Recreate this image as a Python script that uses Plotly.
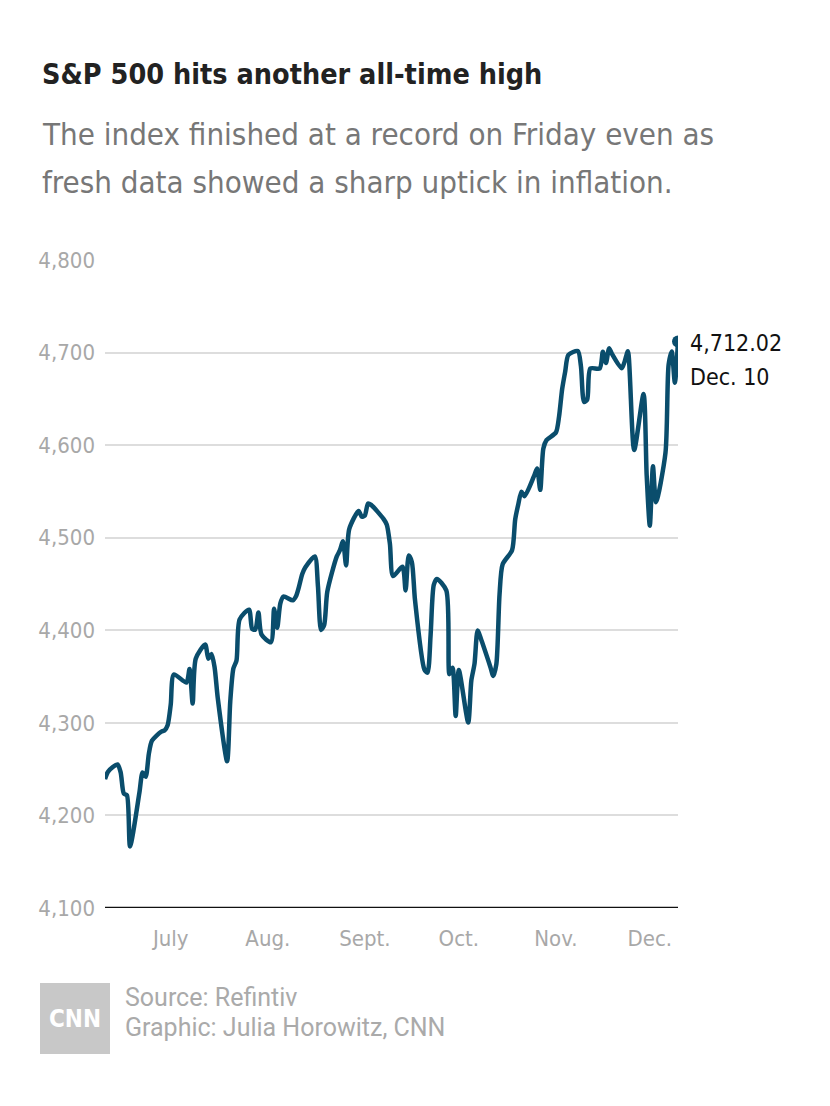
import plotly.graph_objects as go

dates = [
    "2021-06-10", "2021-06-11", "2021-06-14", "2021-06-15", "2021-06-16", "2021-06-17", "2021-06-18",
    "2021-06-21", "2021-06-22", "2021-06-23", "2021-06-24", "2021-06-25", "2021-06-28", "2021-06-29", "2021-06-30",
    "2021-07-01", "2021-07-02", "2021-07-06", "2021-07-07", "2021-07-08", "2021-07-09",
    "2021-07-12", "2021-07-13", "2021-07-14", "2021-07-15", "2021-07-16",
    "2021-07-19", "2021-07-20", "2021-07-21", "2021-07-22", "2021-07-23",
    "2021-07-26", "2021-07-27", "2021-07-28", "2021-07-29", "2021-07-30",
    "2021-08-02", "2021-08-03", "2021-08-04", "2021-08-05", "2021-08-06",
    "2021-08-09", "2021-08-10", "2021-08-11", "2021-08-12", "2021-08-13",
    "2021-08-16", "2021-08-17", "2021-08-18", "2021-08-19", "2021-08-20",
    "2021-08-23", "2021-08-24", "2021-08-25", "2021-08-26", "2021-08-27",
    "2021-08-30", "2021-08-31", "2021-09-01", "2021-09-02", "2021-09-03",
    "2021-09-07", "2021-09-08", "2021-09-09", "2021-09-10",
    "2021-09-13", "2021-09-14", "2021-09-15", "2021-09-16", "2021-09-17",
    "2021-09-20", "2021-09-21", "2021-09-22", "2021-09-23", "2021-09-24",
    "2021-09-27", "2021-09-28", "2021-09-29", "2021-09-30", "2021-10-01",
    "2021-10-04", "2021-10-05", "2021-10-06", "2021-10-07", "2021-10-08",
    "2021-10-11", "2021-10-12", "2021-10-13", "2021-10-14", "2021-10-15",
    "2021-10-18", "2021-10-19", "2021-10-20", "2021-10-21", "2021-10-22",
    "2021-10-25", "2021-10-26", "2021-10-27", "2021-10-28", "2021-10-29",
    "2021-11-01", "2021-11-02", "2021-11-03", "2021-11-04", "2021-11-05",
    "2021-11-08", "2021-11-09", "2021-11-10", "2021-11-11", "2021-11-12",
    "2021-11-15", "2021-11-16", "2021-11-17", "2021-11-18", "2021-11-19",
    "2021-11-22", "2021-11-23", "2021-11-24", "2021-11-26",
    "2021-11-29", "2021-11-30", "2021-12-01", "2021-12-02", "2021-12-03",
    "2021-12-06", "2021-12-07", "2021-12-08", "2021-12-09", "2021-12-10",
]
closes = [
    4239.18, 4247.44, 4255.15, 4246.59, 4223.70, 4221.86, 4166.45,
    4224.79, 4246.44, 4241.84, 4266.49, 4280.70, 4290.61, 4291.80, 4297.50,
    4319.94, 4352.34, 4343.54, 4358.13, 4320.82, 4369.55,
    4384.63, 4369.21, 4374.30, 4360.03, 4327.16,
    4258.49, 4323.06, 4358.69, 4367.48, 4411.79,
    4422.30, 4401.46, 4400.64, 4419.15, 4395.26,
    4387.16, 4423.15, 4402.66, 4429.10, 4436.52,
    4432.35, 4436.75, 4447.70, 4460.83, 4468.00,
    4479.71, 4448.08, 4400.27, 4405.80, 4441.67,
    4479.53, 4486.23, 4496.19, 4470.00, 4509.37,
    4528.79, 4522.68, 4524.09, 4536.95, 4535.43,
    4520.03, 4514.07, 4493.28, 4458.58,
    4468.73, 4443.05, 4480.70, 4473.75, 4432.99,
    4357.73, 4354.19, 4395.64, 4448.98, 4455.48,
    4443.11, 4352.63, 4359.46, 4307.54, 4357.04,
    4300.46, 4345.72, 4363.55, 4399.76, 4391.34,
    4361.19, 4350.65, 4363.80, 4438.26, 4471.37,
    4486.46, 4519.63, 4536.19, 4549.78, 4544.90,
    4566.48, 4574.79, 4551.68, 4596.42, 4605.38,
    4613.67, 4630.65, 4660.57, 4680.06, 4697.53,
    4701.70, 4685.25, 4646.71, 4649.27, 4682.85,
    4682.80, 4700.90, 4688.67, 4704.54, 4697.96,
    4682.94, 4690.70, 4701.46, 4594.62,
    4655.27, 4567.00, 4513.04, 4577.10, 4538.43,
    4591.67, 4686.75, 4701.21, 4667.45, 4712.02,
]

month_ticks = ["2021-07-01", "2021-08-01", "2021-09-01", "2021-10-01", "2021-11-01", "2021-12-01"]
month_labels = ["July", "Aug.", "Sept.", "Oct.", "Nov.", "Dec."]
y_ticks = [4100, 4200, 4300, 4400, 4500, 4600, 4700, 4800]

last_label = "4,712.02"
last_date_label = "Dec. 10"

LINE = "#0a4d6c"
NARROW = "DejaVu Sans Condensed, Roboto, sans-serif"

# page offset (body margin) of 8px; positions below are target page pixels
OFF = 8
L, R, T, B = 105, 678, 260, 908
W, H = R - L, B - T


def px(x):
    return (x - L) / W


def py(y):
    return (B - y) / H


fig = go.Figure()
fig.add_trace(go.Scatter(
    x=dates, y=closes, mode="lines",
    line=dict(color=LINE, width=4.5, shape="spline", smoothing=0.7),
    hoverinfo="skip", showlegend=False,
))
fig.add_trace(go.Scatter(
    x=[dates[-1]], y=[closes[-1]], mode="markers",
    marker=dict(color=LINE, size=12),
    hoverinfo="skip", showlegend=False,
))

annotations = [
    dict(text="<b>S&P 500 hits another all-time high</b>", x=px(40), y=py(74),
         font=dict(family=NARROW, size=28.5, color="#222222")),
    dict(text="The index finished at a record on Friday even as", x=px(40), y=py(134),
         font=dict(family=NARROW, size=31, color="#777777")),
    dict(text="fresh data showed a sharp uptick in inflation.", x=px(40), y=py(182),
         font=dict(family=NARROW, size=31, color="#777777")),
    dict(text="Source: Refintiv", x=px(123), y=py(997),
         font=dict(family="Roboto", size=25, color="#aaaaaa")),
    dict(text="Graphic: Julia Horowitz, CNN", x=px(123), y=py(1027),
         font=dict(family="Roboto", size=25, color="#aaaaaa")),
]
for a in annotations:
    a.update(xref="paper", yref="paper", xanchor="left", yanchor="middle", showarrow=False)

annotations.append(dict(text="<b>CNN</b>", x=px(75), y=py(1019), xref="paper", yref="paper",
                        xanchor="center", yanchor="middle", showarrow=False,
                        font=dict(family=NARROW, size=24, color="#ffffff")))
annotations.append(dict(text=last_label, x=dates[-1], y=closes[-1], xref="x", yref="y",
                        xanchor="left", yanchor="middle", xshift=10, yshift=-2, showarrow=False,
                        font=dict(family=NARROW, size=23, color="#111111")))
annotations.append(dict(text=last_date_label, x=dates[-1], y=closes[-1], xref="x", yref="y",
                        xanchor="left", yanchor="middle", xshift=10, yshift=-36, showarrow=False,
                        font=dict(family=NARROW, size=23, color="#111111")))

fig.update_layout(
    width=830, height=1106,
    margin=dict(l=L - OFF, r=830 - R + OFF, t=T - OFF, b=1106 - B + OFF),
    paper_bgcolor="white", plot_bgcolor="white",
    annotations=annotations,
    shapes=[dict(type="rect", xref="paper", yref="paper",
                 x0=px(40), x1=px(110), y0=py(1054), y1=py(983),
                 fillcolor="#c8c8c8", line=dict(width=0), layer="below")],
    xaxis=dict(
        range=["2021-06-10", "2021-12-10"],
        tickvals=month_ticks, ticktext=month_labels,
        showgrid=False, zeroline=False, showline=False, ticks="",
        tickfont=dict(family=NARROW, size=22, color="#a8a8a8"),
        ticklabelstandoff=15,
    ),
    yaxis=dict(
        range=[4100, 4800], tickvals=y_ticks, tickformat=",",
        showgrid=True, gridcolor="#dddddd", gridwidth=2,
        zeroline=False, showline=False, ticks="",
        tickfont=dict(family=NARROW, size=22, color="#a8a8a8"),
        ticklabelstandoff=9,
    ),
)
fig.add_shape(type="line", xref="paper", yref="y", x0=0, x1=1, y0=4100, y1=4100,
              line=dict(color="#111111", width=2.5))

fig.write_html("out.html")
